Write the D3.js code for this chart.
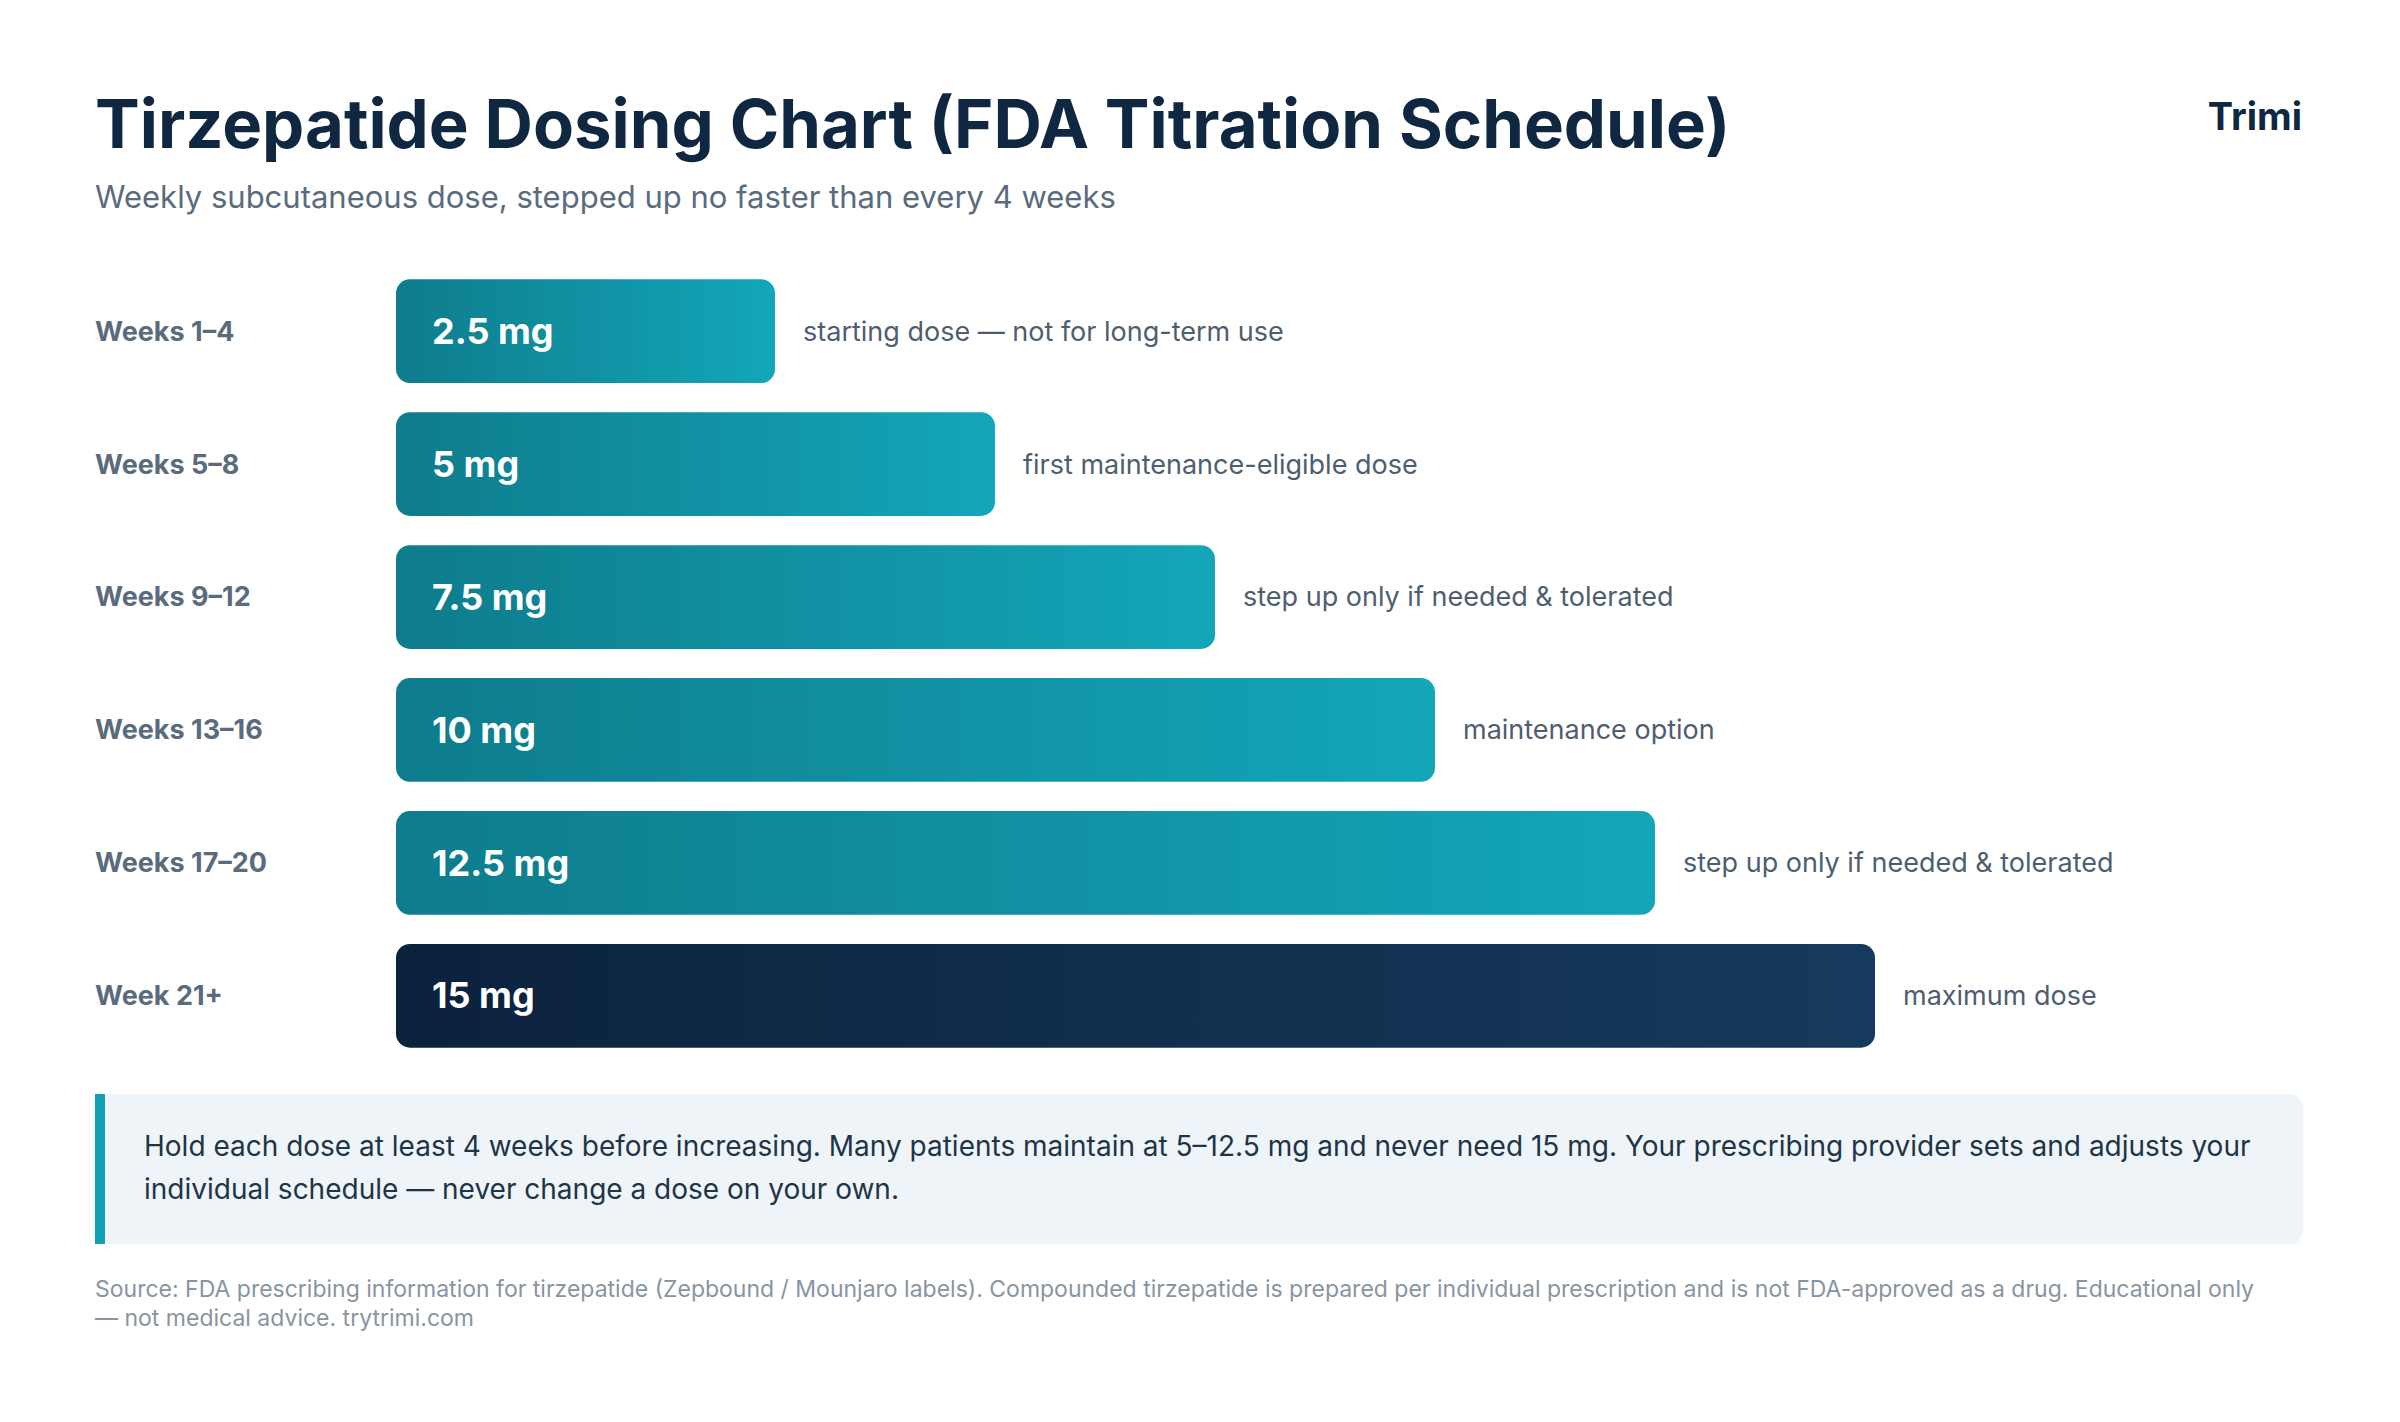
<!DOCTYPE html>
<html><head><meta charset="utf-8">
<script src="https://cdn.jsdelivr.net/npm/d3@7"></script>
<style>body{margin:0;background:#fff}svg{display:block}text{font-family:"Helvetica Neue",Inter,"Liberation Sans",Arial,sans-serif}</style>
</head><body><svg id="c" width="2400" height="1422"></svg>
<script>
const periods=["Weeks 1–4","Weeks 5–8","Weeks 9–12","Weeks 13–16","Weeks 17–20","Week 21+"];
const doses=[2.5,5,7.5,10,12.5,15];
const doseLabels=["2.5 mg","5 mg","7.5 mg","10 mg","12.5 mg","15 mg"];
const notes=["starting dose — not for long-term use","first maintenance-eligible dose","step up only if needed & tolerated","maintenance option","step up only if needed & tolerated","maximum dose"];

const svg=d3.select("#c");
const defs=svg.append("defs");
function grad(id,a,b){const g=defs.append("linearGradient").attr("id",id);g.append("stop").attr("offset","0%").attr("stop-color",a);g.append("stop").attr("offset","100%").attr("stop-color",b);}
grad("teal","#0e7c8c","#13a6b9");grad("navy","#0b223d","#163a5d");

svg.append("text").attr("x",95).attr("y",148).attr("font-size",67).attr("font-weight",700).attr("fill","#0f2740").text("Tirzepatide Dosing Chart (FDA Titration Schedule)");
svg.append("text").attr("x",95).attr("y",208).attr("font-size",31).attr("fill","#5a6b7d").text("Weekly subcutaneous dose, stepped up no faster than every 4 weeks");
svg.append("text").attr("x",2302).attr("y",130).attr("text-anchor","end").attr("font-size",38).attr("font-weight",700).attr("fill","#0f2740").text("Trimi");

const x0=396;
const w=d3.scaleLinear().domain([0,15]).range([159,1479]);
const y=d3.scaleBand().domain(periods).range([266,1061]).paddingInner(0.22).paddingOuter(0.1);
const g=svg.append("g");
periods.forEach((p,i)=>{
  const yy=y(p),h=y.bandwidth(),cy=yy+h/2;
  g.append("text").attr("x",95).attr("y",cy).attr("dy","0.35em").attr("font-size",27).attr("font-weight",700).attr("fill","#5a6b7d").text(p);
  g.append("rect").attr("x",x0).attr("y",yy).attr("width",w(doses[i])).attr("height",h).attr("rx",14).attr("fill",i===5?"url(#navy)":"url(#teal)");
  g.append("text").attr("x",x0+36).attr("y",cy).attr("dy","0.35em").attr("font-size",36).attr("font-weight",700).attr("fill","#fff").text(doseLabels[i]);
  g.append("text").attr("x",x0+w(doses[i])+28).attr("y",cy).attr("dy","0.35em").attr("font-size",27).attr("fill","#4e5e70").text(notes[i]);
});

svg.append("rect").attr("x",95).attr("y",1094).attr("width",2208).attr("height",150).attr("rx",14).attr("fill","#eef4f7");
svg.append("rect").attr("x",95).attr("y",1094).attr("width",10).attr("height",150).attr("fill","#13a0b2");
const lines=["Hold each dose at least 4 weeks before increasing. Many patients maintain at 5–12.5 mg and never need 15 mg. Your prescribing provider sets and adjusts your","individual schedule — never change a dose on your own."];
lines.forEach((l,i)=>svg.append("text").attr("x",144).attr("y",1156+i*43).attr("font-size",28).attr("fill","#1e3448").text(l));
const src=["Source: FDA prescribing information for tirzepatide (Zepbound / Mounjaro labels). Compounded tirzepatide is prepared per individual prescription and is not FDA-approved as a drug. Educational only","— not medical advice. trytrimi.com"];
src.forEach((l,i)=>svg.append("text").attr("x",95).attr("y",1297+i*29).attr("font-size",23).attr("fill","#8795a3").text(l));
</script></body></html>
